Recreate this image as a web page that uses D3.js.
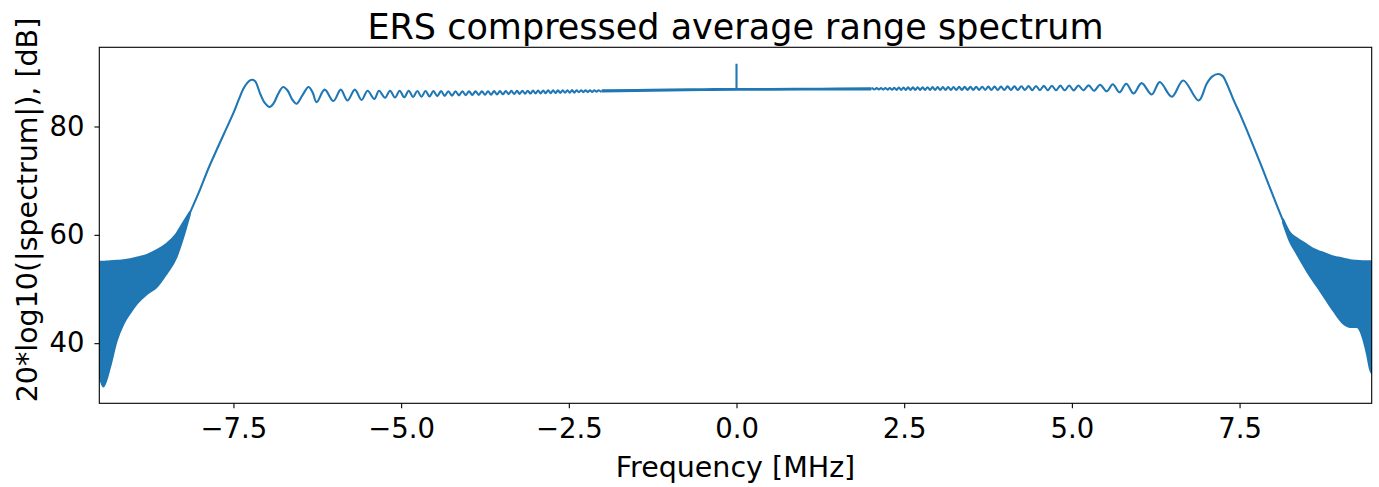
<!DOCTYPE html>
<html>
<head>
<meta charset="utf-8">
<script src="https://cdn.jsdelivr.net/npm/d3@7"></script>
<style>
  html, body { margin: 0; padding: 0; background: #fff; }
  text { font-family: "DejaVu Sans", sans-serif; fill: #000; }
</style>
</head>
<body>
<svg id="chart" width="1379" height="487"></svg>
<script>
// ---------------- data ----------------
const titleText = "ERS compressed average range spectrum";
const xLabelText = "Frequency [MHz]";
const yLabelText = "20*log10(|spectrum|), [dB]";

const xTicks = [-7.5, -5.0, -2.5, 0.0, 2.5, 5.0, 7.5];
const yTicks = [40, 60, 80];

// left skirt: dense oscillation drawn as a filled band (upper / lower envelope)
const leftSkirtFreq = [-9.5, -9.47, -9.44, -9.40, -9.34, -9.24, -9.14, -9.04, -8.94, -8.79, -8.65, -8.50, -8.35, -8.25, -8.15];
const leftSkirtHi   = [55.0, 55.0, 55.0, 55.05, 55.1, 55.2, 55.3, 55.5, 55.8, 56.3, 57.1, 58.3, 60.2, 62.2, 64.2];
const leftSkirtLo   = [34.0, 32.8, 32.0, 33.0, 35.6, 40.5, 43.6, 45.6, 47.3, 49.1, 50.3, 52.8, 55.9, 59.5, 63.8];

// right skirt
const rightSkirtFreq = [8.15, 8.25, 8.35, 8.5, 8.6, 8.7, 8.85, 8.9, 9.05, 9.15, 9.25, 9.3, 9.35, 9.4, 9.45, 9.47];
const rightSkirtHi   = [62.8, 60.4, 59.4, 58.2, 57.4, 56.9, 56.2, 56.0, 55.6, 55.3, 55.2, 55.15, 55.1, 55.1, 55.1, 55.1];
const rightSkirtLo   = [62.2, 58.8, 56.6, 53.4, 51.5, 49.7, 46.9, 46.0, 43.6, 43.0, 43.0, 42.3, 40.5, 38.0, 35.0, 34.5];

// left band edge + ripples (line), frequency in MHz / level in dB
const leftLineFreq = [-8.25, -8.15, -8.0, -7.875, -7.75, -7.625, -7.5, -7.42, -7.35, -7.29, -7.24, -7.18, -7.10, -7.03, -6.96, -6.9, -6.83, -6.76, -6.69, -6.62, -6.56, -6.47, -6.38, -6.32, -6.26, -6.14, -6.01, -5.90, -5.80, -5.69, -5.59, -5.50, -5.40, -5.33, -5.24,
  -5.165, -5.092, -5.022, -4.954, -4.887, -4.822, -4.759, -4.697, -4.636, -4.577, -4.518, -4.461, -4.405, -4.350, -4.296, -4.242, -4.190, -4.138, -4.087, -4.037,
  -3.988, -3.939, -3.891, -3.843, -3.796, -3.750, -3.704, -3.659, -3.614, -3.570, -3.526, -3.483, -3.440, -3.398, -3.356, -3.314, -3.273, -3.233, -3.192, -3.152,
  -3.113, -3.073, -3.034, -2.996, -2.958, -2.920, -2.882, -2.845, -2.808, -2.771, -2.734, -2.698, -2.662, -2.627, -2.591, -2.556, -2.521, -2.486, -2.452, -2.418,
  -2.384, -2.350, -2.317, -2.283, -2.250, -2.217, -2.184, -2.152, -2.120, -2.087, -2.056, -2.024];
const leftLineDb   = [61.0, 64.0, 68.3, 72.2, 75.7, 79.1, 82.5, 85.0, 87.0, 88.1, 88.6, 88.4, 86.0, 84.3, 83.6, 84.3, 86.1, 87.3, 86.6, 84.9, 84.2, 85.8, 87.3, 86.3, 84.5, 86.8, 84.7, 86.8, 84.8, 86.8, 84.9, 86.6, 85.1, 86.6, 85.3,
  86.6, 85.35, 86.6, 85.4, 86.6, 85.45, 86.55, 85.5, 86.55, 85.55, 86.55, 85.6, 86.55, 85.65, 86.5, 85.7, 86.5, 85.75, 86.5, 85.8,
  86.49, 85.82, 86.50, 85.84, 86.51, 85.86, 86.52, 85.88, 86.53, 85.90, 86.55, 85.94, 86.56, 85.97, 86.57, 86.00, 86.58, 86.03, 86.60, 86.06,
  86.61, 86.08, 86.62, 86.10, 86.63, 86.12, 86.65, 86.14, 86.66, 86.16, 86.67, 86.18, 86.68, 86.20, 86.69, 86.22, 86.70, 86.24, 86.71, 86.26,
  86.70, 86.31, 86.70, 86.33, 86.70, 86.35, 86.70, 86.38, 86.70, 86.41, 86.70, 86.44];

// right ripples + band edge (line)
const rightLineFreq = [2.026, 2.058, 2.090, 2.122, 2.155, 2.187, 2.220, 2.253, 2.286, 2.319, 2.353, 2.387, 2.421, 2.455, 2.489, 2.524, 2.559, 2.594, 2.630, 2.665,
  2.701, 2.738, 2.774, 2.811, 2.848, 2.885, 2.923, 2.961, 2.999, 3.038, 3.077, 3.116, 3.156, 3.196, 3.236, 3.277, 3.318, 3.360, 3.402, 3.444,
  3.487, 3.530, 3.574, 3.618, 3.663, 3.708, 3.754, 3.800, 3.847, 3.895, 3.943, 3.992,
  4.041, 4.092, 4.143, 4.194, 4.247, 4.300, 4.355, 4.410, 4.466, 4.523, 4.582, 4.641, 4.702, 4.764, 4.828, 4.893, 4.960, 5.028, 5.098,
  5.17, 5.25, 5.33, 5.42, 5.52, 5.61, 5.71, 5.81, 5.92, 6.04, 6.19, 6.31, 6.49, 6.66, 6.89, 7.01, 7.09, 7.18, 7.25, 7.31, 7.41, 7.51, 7.61, 7.81, 8.0, 8.15, 8.25];
const rightLineDb   = [87.07, 86.83, 87.08, 86.82, 87.09, 86.81, 87.10, 86.80, 87.12, 86.78, 87.15, 86.76, 87.20, 86.75, 87.21, 86.75, 87.22, 86.75, 87.23, 86.75,
  87.24, 86.75, 87.24, 86.75, 87.25, 86.75, 87.26, 86.75, 87.27, 86.75, 87.28, 86.75, 87.29, 86.75, 87.30, 86.75, 87.31, 86.75, 87.32, 86.75,
  87.33, 86.75, 87.34, 86.75, 87.35, 86.75, 87.36, 86.74, 87.37, 86.74, 87.38, 86.74,
  87.40, 86.75, 87.42, 86.74, 87.44, 86.73, 87.46, 86.72, 87.48, 86.71, 87.5, 86.7, 87.52, 86.69, 87.54, 86.68, 87.56, 86.67, 87.58,
  86.7, 87.6, 86.6, 87.7, 86.5, 87.8, 86.3, 87.9, 86.1, 88.0, 85.9, 88.2, 85.5, 88.5, 84.8, 87.9, 89.2, 89.7, 89.3, 87.9, 84.9, 82.2, 79.3, 73.2, 67.2, 62.6, 60.0];

// central passband: ripple finer than a pixel, drawn as a thin band
const innerFreq = [-2.0, -1.5, -1.0, -0.5, 0.0, 0.5, 1.0, 1.5, 2.0];
const innerHi   = [86.69, 86.76, 86.83, 86.89, 86.95, 86.95, 86.98, 87.02, 87.07];
const innerLo   = [86.45, 86.56, 86.65, 86.73, 86.79, 86.79, 86.80, 86.82, 86.83];

// DC spike
const spikeFreq = [0.0];
const spikeBase = [86.9];
const spikeTop  = [91.6];

// ---------------- drawing ----------------
const plot = { left: 99.3, right: 1371.7, top: 47.3, bottom: 403.3 };
const color = "#1f77b4";
const tickFont = 27.5;
const labelFont = 28.5;
const titleFont = 35;

const svg = d3.select("#chart");

const x = d3.scaleLinear().domain([-9.5, 9.47]).range([plot.left, plot.right]);
const y = d3.scaleLinear().domain([28.9, 94.62]).range([plot.bottom, plot.top]);

svg.append("defs").append("clipPath").attr("id", "clip")
  .append("rect")
  .attr("x", plot.left).attr("y", plot.top)
  .attr("width", plot.right - plot.left).attr("height", plot.bottom - plot.top);

const g = svg.append("g").attr("clip-path", "url(#clip)");

function band(freq, hi, lo, sw) {
  const d = freq.map((f, i) => ({ f, hi: hi[i], lo: lo[i] }));
  const area = d3.area().x(p => x(p.f)).y0(p => y(p.lo)).y1(p => y(p.hi)).curve(d3.curveMonotoneX);
  g.append("path").datum(d).attr("d", area)
    .attr("fill", color).attr("stroke", color).attr("stroke-width", sw).attr("stroke-linejoin", "round");
}
function trace(freq, db) {
  const d = freq.map((f, i) => ({ f, v: db[i] }));
  const line = d3.line().x(p => x(p.f)).y(p => y(p.v)).curve(d3.curveCatmullRom.alpha(0.5));
  g.append("path").datum(d).attr("d", line)
    .attr("fill", "none").attr("stroke", color).attr("stroke-width", 2.1)
    .attr("stroke-linejoin", "round").attr("stroke-linecap", "round");
}

band(leftSkirtFreq, leftSkirtHi, leftSkirtLo, 2.1);
band(rightSkirtFreq, rightSkirtHi, rightSkirtLo, 2.1);
band(innerFreq, innerHi, innerLo, 1.9);
trace(leftLineFreq, leftLineDb);
trace(rightLineFreq, rightLineDb);

g.selectAll("line.spike").data(spikeFreq).join("line").attr("class", "spike")
  .attr("x1", d => x(d)).attr("x2", d => x(d))
  .attr("y1", (d, i) => y(spikeBase[i])).attr("y2", (d, i) => y(spikeTop[i]))
  .attr("stroke", color).attr("stroke-width", 2.1);

// axes
const fmt = d3.format(".1f");
const xAxis = d3.axisBottom(x).tickValues(xTicks).tickFormat(fmt).tickSize(4.9).tickPadding(10.6);
const yAxis = d3.axisLeft(y).tickValues(yTicks).tickFormat(d3.format("d")).tickSize(4.9).tickPadding(10);

const gx = svg.append("g").attr("transform", `translate(0,${plot.bottom})`).call(xAxis);
const gy = svg.append("g").attr("transform", `translate(${plot.left},0)`).call(yAxis);
[gx, gy].forEach(a => {
  a.select(".domain").remove();
  a.selectAll(".tick line").attr("stroke", "#000").attr("stroke-width", 1.1);
  a.selectAll(".tick text").attr("font-size", tickFont).attr("font-family", "DejaVu Sans").attr("fill", "#000");
});

// spines
svg.append("rect")
  .attr("x", plot.left).attr("y", plot.top)
  .attr("width", plot.right - plot.left).attr("height", plot.bottom - plot.top)
  .attr("fill", "none").attr("stroke", "#000").attr("stroke-width", 1.1);

// title & labels
const cx = (plot.left + plot.right) / 2;
svg.append("text").attr("x", cx).attr("y", 39).attr("text-anchor", "middle")
  .attr("font-size", titleFont).text(titleText);
svg.append("text").attr("x", cx).attr("y", 476.5).attr("text-anchor", "middle")
  .attr("font-size", labelFont).text(xLabelText);
svg.append("text")
  .attr("transform", `translate(37,210) rotate(-90)`)
  .attr("text-anchor", "middle").attr("font-size", labelFont).text(yLabelText);
</script>
</body>
</html>
